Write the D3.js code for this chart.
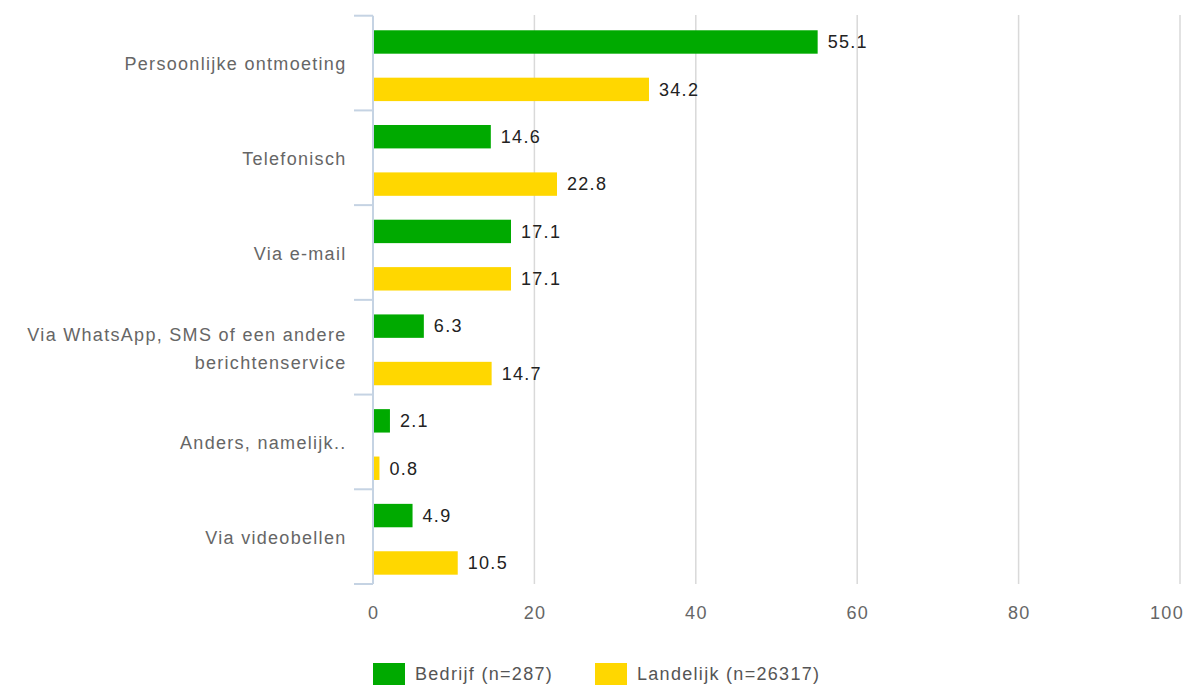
<!DOCTYPE html>
<html><head><meta charset="utf-8">
<script src="https://cdn.jsdelivr.net/npm/d3@7"></script>
<style>body{margin:0;background:#fff;}svg{display:block;font-family:"Liberation Sans",Arial,sans-serif;}text{letter-spacing:1.3px;}</style>
</head><body><svg id="c" width="1183" height="691"></svg>
<script>
const categories = [["Persoonlijke ontmoeting"],["Telefonisch"],["Via e-mail"],["Via WhatsApp, SMS of een andere","berichtenservice"],["Anders, namelijk.."],["Via videobellen"]];
const seriesNames = ["Bedrijf (n=287)","Landelijk (n=26317)"];
const bedrijf = [55.1,14.6,17.1,6.3,2.1,4.9];
const landelijk = [34.2,22.8,17.1,14.7,0.8,10.5];
const xTicks = [0,20,40,60,80,100];
const colors = ["#00aa00","#ffd700"];

const svg = d3.select("#c");
const FS = 18;
const x = d3.scaleLinear().domain([0,100]).range([373,1180]);
const y = d3.scaleBand().domain(d3.range(categories.length)).range([15.7,584]);
const ys = d3.scaleBand().domain([0,1]).range([0,y.bandwidth()]).paddingInner(0.506).paddingOuter(0.252).align(0.61);

// gridlines
svg.append("g").selectAll("line").data(xTicks.filter(d=>d>0)).join("line")
  .attr("x1",d=>x(d)).attr("x2",d=>x(d)).attr("y1",15).attr("y2",584)
  .attr("stroke","#d9d9d9").attr("stroke-width",1.5);

// bars
const data = [];
categories.forEach((c,i)=>{ data.push({i,s:0,v:bedrijf[i]}); data.push({i,s:1,v:landelijk[i]}); });
svg.append("g").selectAll("rect").data(data).join("rect")
  .attr("x",x(0)+1).attr("y",d=>y(d.i)+ys(d.s))
  .attr("width",d=>x(d.v)-x(0)-1).attr("height",ys.bandwidth())
  .attr("fill",d=>colors[d.s]);

// y axis
const axisG = svg.append("g");
axisG.append("line").attr("x1",373).attr("x2",373).attr("y1",15.7).attr("y2",584).attr("stroke","#c5d3e3").attr("stroke-width",2);
const bounds = d3.range(categories.length).map(i=>y(i)).concat([y(categories.length-1)+y.step()]);
axisG.selectAll("line.t").data(bounds).join("line").attr("class","t")
  .attr("x1",354).attr("x2",373).attr("y1",d=>d).attr("y2",d=>d).attr("stroke","#c5d3e3").attr("stroke-width",2);

// value labels
svg.append("g").selectAll("text").data(data).join("text")
  .attr("x",d=>x(d.v)+10).attr("y",d=>y(d.i)+ys(d.s)+ys.bandwidth()/2)
  .attr("dy","0.35em").attr("font-size",FS).attr("fill","#222")
  .text(d=>d.v.toFixed(1));

// category labels
const lab = svg.append("g").selectAll("text").data(categories).join("text")
  .attr("text-anchor","end").attr("font-size",FS).attr("fill","#666");
lab.each(function(lines,i){
  const cy = y(i)+y.bandwidth()/2 + 1;
  const lh = 28;
  d3.select(this).selectAll("tspan").data(lines).join("tspan")
    .attr("x",346.5).attr("y",(d,j)=>cy+(j-(lines.length-1)/2)*lh).attr("dy","0.35em").text(d=>d);
});

// x tick labels
svg.append("g").selectAll("text").data(xTicks).join("text")
  .attr("x",d=>x(d)).attr("y",613).attr("dy","0.35em").attr("text-anchor",d=>d===100?"end":"middle")
  .attr("dx",d=>d===100?4:0.6)
  .attr("font-size",FS).attr("fill","#666").text(d=>d);

// legend
const legX = [373,595];
const lg = svg.append("g").selectAll("g").data(seriesNames).join("g").attr("transform",(d,i)=>`translate(${legX[i]},663)`);
lg.append("rect").attr("width",32).attr("height",22).attr("fill",(d,i)=>colors[i]);
lg.append("text").attr("x",42).attr("y",11).attr("dy","0.35em").attr("font-size",FS).attr("fill","#555").text(d=>d);
</script></body></html>
